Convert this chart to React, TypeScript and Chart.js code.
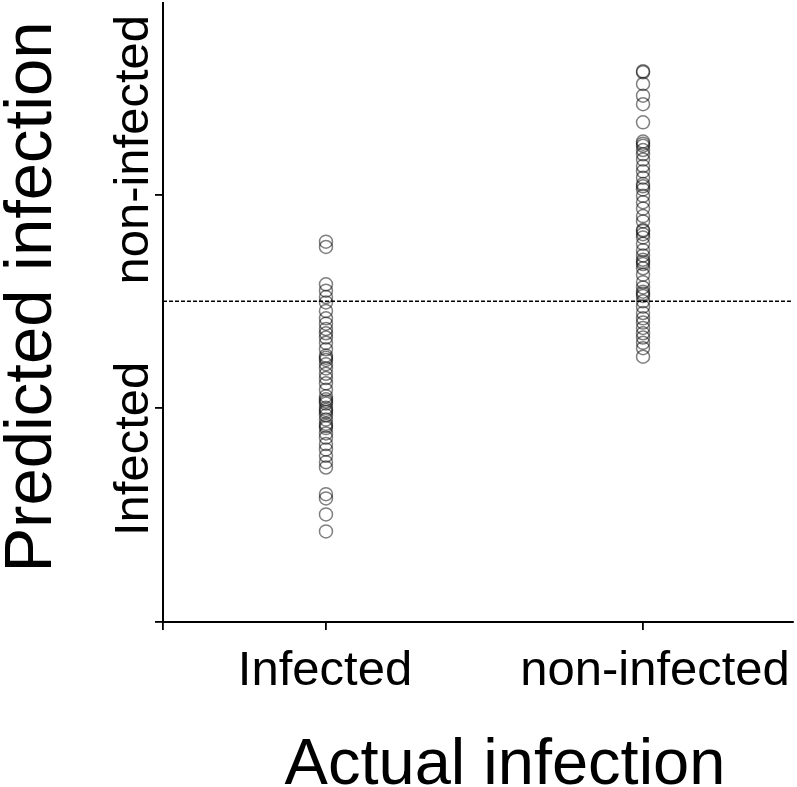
import React, { useEffect, useRef } from 'react';
import { Chart, registerables } from 'chart.js';

Chart.register(...registerables);

// ---- Data ----
const CATEGORIES = ['Infected', 'non-infected']; // x positions 1 and 2
const Y_TICK_VALUES = [-1, 1];
const Y_TICK_LABELS = ['Infected', 'non-infected'];
const THRESHOLD = 0;
const X_TITLE = 'Actual infection';
const Y_TITLE = 'Predicted infection';

const INFECTED_SCORES = [
  0.56, 0.51, 0.16, 0.1, 0.04, -0.01, -0.09, -0.16, -0.21, -0.26, -0.3, -0.34,
  -0.39, -0.45, -0.51, -0.53, -0.55, -0.59, -0.63, -0.68, -0.72, -0.77, -0.83,
  -0.89, -0.92, -0.94, -0.96, -1.0, -1.02, -1.04, -1.07, -1.11, -1.15, -1.17,
  -1.19, -1.24, -1.28, -1.34, -1.39, -1.45, -1.51, -1.56, -1.81, -1.85, -2.0,
  -2.16,
];

const NON_INFECTED_SCORES = [
  2.16, 2.15, 2.04, 1.93, 1.85, 1.68, 1.5, 1.48, 1.46, 1.42, 1.38, 1.33, 1.27,
  1.22, 1.16, 1.1, 1.08, 1.05, 0.99, 0.93, 0.87, 0.8, 0.75, 0.67, 0.66, 0.63,
  0.6, 0.54, 0.48, 0.43, 0.39, 0.37, 0.35, 0.31, 0.25, 0.18, 0.13, 0.09, 0.07,
  0.05, 0.0, -0.05, -0.11, -0.16, -0.2, -0.25, -0.3, -0.34, -0.39, -0.44, -0.52,
];

const X_MIN = 0.486;
const X_MAX = 2.473;
const Y_MIN = -3.01;
const Y_MAX = 2.8;

const FONT = 'Liberation Sans, Arial, Helvetica, sans-serif';

const textPlugin = {
  id: 'customText',
  afterDraw(chart: any) {
    const ctx = chart.ctx;
    const xs = chart.scales.x;
    const ys = chart.scales.y;
    ctx.save();
    ctx.fillStyle = '#000';

    // y tick labels (rotated)
    ctx.font = `49px ${FONT}`;
    ctx.textAlign = 'center';
    ctx.textBaseline = 'alphabetic';
    const yOffsets = [41, -45];
    Y_TICK_VALUES.forEach((v, i) => {
      const py = ys.getPixelForValue(v) + yOffsets[i];
      ctx.save();
      ctx.translate(148, py);
      ctx.rotate(-Math.PI / 2);
      ctx.fillText(Y_TICK_LABELS[i], 0, 0);
      ctx.restore();
    });

    // x tick labels
    const xOffsets = [-1, 12];
    CATEGORIES.forEach((c, i) => {
      const px = xs.getPixelForValue(i + 1) + xOffsets[i];
      ctx.fillText(c, px, 685);
    });

    // axis titles
    ctx.font = `65px ${FONT}`;
    ctx.fillText(X_TITLE, 505, 784);
    ctx.font = `67px ${FONT}`;
    ctx.save();
    ctx.translate(51, 297);
    ctx.rotate(-Math.PI / 2);
    ctx.fillText(Y_TITLE, 0, 0);
    ctx.restore();

    ctx.restore();
  },
};

export default function App() {
  const canvasRef = useRef<HTMLCanvasElement | null>(null);

  useEffect(() => {
    if (!canvasRef.current) return;
    const pointStyle = {
      pointStyle: 'circle',
      pointRadius: 6.5,
      pointBackgroundColor: 'rgba(0,0,0,0)',
      pointBorderColor: 'rgba(0,0,0,0.5)',
      pointBorderWidth: 1.5,
      showLine: false,
    };
    const chart = new Chart(canvasRef.current, {
      type: 'scatter',
      data: {
        datasets: [
          {
            type: 'line',
            data: [
              { x: X_MIN, y: THRESHOLD },
              { x: X_MAX, y: THRESHOLD },
            ],
            borderColor: '#000',
            borderWidth: 1.5,
            borderDash: [4, 2],
            pointRadius: 0,
            fill: false,
          } as any,
          {
            label: CATEGORIES[0],
            data: INFECTED_SCORES.map((v) => ({ x: 1, y: v })),
            ...pointStyle,
          } as any,
          {
            label: CATEGORIES[1],
            data: NON_INFECTED_SCORES.map((v) => ({ x: 2, y: v })),
            ...pointStyle,
          } as any,
        ],
      },
      options: {
        responsive: false,
        animation: false,
        layout: {
          autoPadding: false,
          padding: { top: 3, right: 4, left: 0, bottom: 0 },
        },
        plugins: {
          legend: { display: false },
          tooltip: { enabled: false },
        },
        scales: {
          x: {
            type: 'linear',
            min: X_MIN,
            max: X_MAX,
            afterBuildTicks: (s: any) => {
              s.ticks = [{ value: X_MIN }, { value: 1 }, { value: 2 }];
            },
            afterFit: (s: any) => {
              s.height = 165;
            },
            ticks: { display: false },
            grid: {
              drawOnChartArea: false,
              drawTicks: true,
              tickLength: 8,
              color: '#000',
              lineWidth: 1.8,
            },
            border: { display: true, color: '#000', width: 2 },
          },
          y: {
            type: 'linear',
            min: Y_MIN,
            max: Y_MAX,
            afterBuildTicks: (s: any) => {
              s.ticks = [{ value: Y_MIN }, ...Y_TICK_VALUES.map((v) => ({ value: v }))];
            },
            afterFit: (s: any) => {
              s.width = 163;
            },
            ticks: { display: false },
            grid: {
              drawOnChartArea: false,
              drawTicks: true,
              tickLength: 8,
              color: '#000',
              lineWidth: 1.8,
            },
            border: { display: true, color: '#000', width: 2 },
          },
        },
      } as any,
      plugins: [textPlugin],
    });
    return () => chart.destroy();
  }, []);

  return (
    <div
      style={{
        position: 'fixed',
        left: 0,
        top: 0,
        width: 797,
        height: 787,
        background: '#fff',
      }}
    >
      <canvas ref={canvasRef} width={797} height={787} />
    </div>
  );
}
